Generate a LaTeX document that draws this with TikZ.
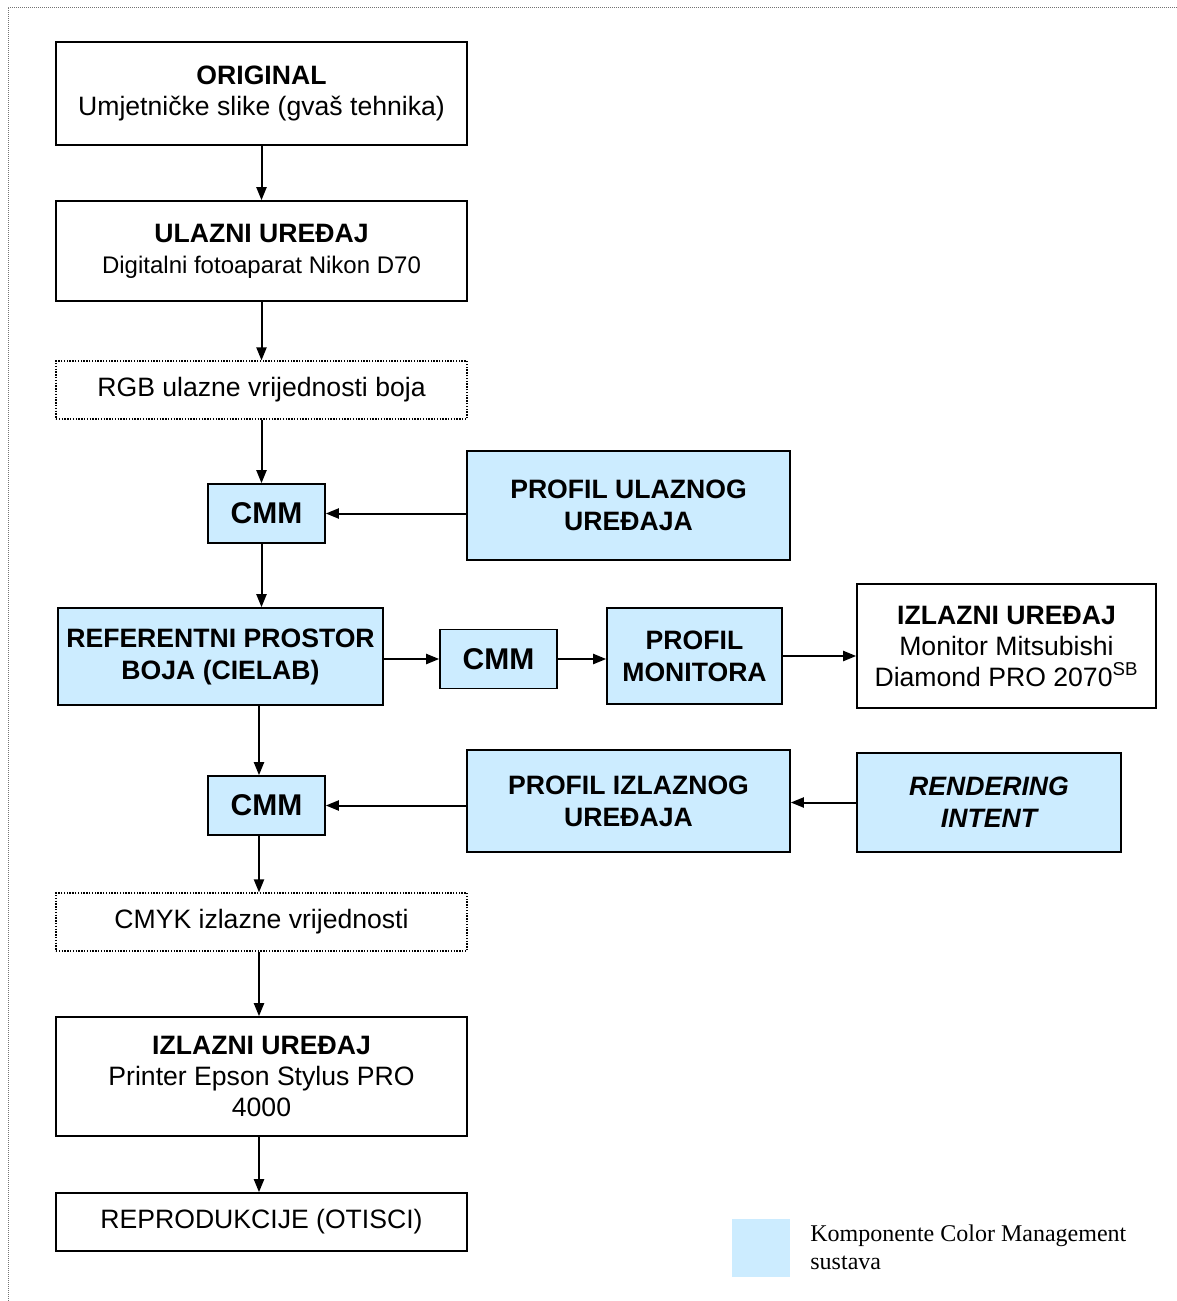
\documentclass[tikz,border=0pt]{standalone}
\usepackage{fontspec}
\setmainfont{Liberation Sans}
\newfontfamily\legendfont{Liberation Serif}
\usepackage{tikz}
\usetikzlibrary{arrows.meta,positioning,calc}
\usepackage{xcolor}
\definecolor{cmsblue}{RGB}{204,236,255}

\begin{document}
\begin{tikzpicture}[
    x=0.5pt,
    y=-0.5pt,
    font=\fontsize{13.3}{15.5}\selectfont,
    plainbox/.style={draw=black,line width=0.8pt,fill=white,align=center,inner sep=0pt},
    valuebox/.style={draw=black,line width=0.6pt,dash pattern=on 0.7pt off 0.7pt,align=center,inner sep=0pt},
    cmsbox/.style={draw=black,line width=0.8pt,fill=cmsblue,align=center,inner sep=0pt,font=\fontsize{13.3}{16}\selectfont\bfseries},
    cmmbox/.style={cmsbox,minimum width=58.5pt,minimum height=29.5pt,font=\fontsize{15}{17}\selectfont\bfseries},
    wide/.style={minimum width=205.5pt},
    flow/.style={-{Triangle[length=6.5pt,width=5pt]},draw=black,line width=1pt},
    frameline/.style={draw=black!55,line width=0.5pt,dash pattern=on 0.5pt off 0.5pt}
  ]
    \useasboundingbox (0,0) rectangle (1177,1301);
    \draw[frameline] (1177,7) -- (8,7) -- (8,1301);

    % main column
    \node[plainbox,wide,minimum height=51.5pt] (original) at (261.5,93.5)
      {\textbf{ORIGINAL}\\Umjetničke slike (gvaš tehnika)};
    \node[plainbox,wide,minimum height=50pt] (inputdevice) at (261.5,251)
      {\textbf{ULAZNI UREĐAJ}\\{\fontsize{12}{15}\selectfont Digitalni fotoaparat Nikon D70}};
    \node[valuebox,wide,minimum height=29pt] (rgbvalues) at (261.5,390)
      {RGB ulazne vrijednosti boja};
    \node[cmmbox] (cmmin) at (266.5,513.5) {CMM};
    \node[cmsbox,minimum width=161.5pt,minimum height=54.5pt] (inprofile) at (628.5,505.5)
      {PROFIL ULAZNOG\\UREĐAJA};
    \node[cmsbox,minimum width=162.5pt,minimum height=48.5pt] (refspace) at (220.5,656.5)
      {REFERENTNI PROSTOR\\BOJA (CIELAB)};
    \node[cmmbox] (cmmmon) at (498.5,659) {CMM};
    \node[cmsbox,minimum width=87.5pt,minimum height=48pt] (monprofile) at (694.5,656)
      {PROFIL\\MONITORA};
    \node[plainbox,minimum width=149.5pt,minimum height=62pt] (monitor) at (1006.5,646)
      {\textbf{IZLAZNI UREĐAJ}\\Monitor Mitsubishi\\Diamond PRO 2070\textsuperscript{SB}};
    \node[cmmbox] (cmmout) at (266.5,805.5) {CMM};
    \node[cmsbox,minimum width=161.5pt,minimum height=51pt] (outprofile) at (628.5,801)
      {PROFIL IZLAZNOG\\UREĐAJA};
    \node[cmsbox,minimum width=132pt,minimum height=49.5pt,font=\fontsize{13.3}{16}\selectfont\bfseries\itshape] (intent) at (989,802.5)
      {RENDERING\\INTENT};
    \node[valuebox,wide,minimum height=29pt] (cmykvalues) at (261.5,922)
      {CMYK izlazne vrijednosti};
    \node[plainbox,wide,minimum height=59.5pt] (printer) at (261.5,1076.5)
      {\textbf{IZLAZNI UREĐAJ}\\Printer Epson Stylus PRO\\4000};
    \node[plainbox,wide,minimum height=29pt] (prints) at (261.5,1222)
      {REPRODUKCIJE (OTISCI)};

    % legend
    \node[fill=cmsblue,minimum size=29pt,inner sep=0pt] (legendbox) at (761,1248) {};
    \node[anchor=west,align=left,inner sep=0pt,font=\legendfont\fontsize{12}{14}\selectfont] (legendtext) at (810,1247)
      {Komponente Color Management\\sustava};

    % connectors
    \coordinate (downline) at (259,0);
    \draw[flow] (original) -- (inputdevice);
    \draw[flow] (inputdevice) -- (rgbvalues);
    \draw[flow] (rgbvalues.south) -- (rgbvalues.south |- cmmin.north);
    \draw[flow] (rgbvalues.south |- cmmin.south) -- (rgbvalues.south |- refspace.north);
    \draw[flow] (inprofile.west |- cmmin) -- (cmmin.east);
    \draw[flow] (refspace.east |- cmmmon) -- (cmmmon.west);
    \draw[flow] (cmmmon.east) -- (cmmmon.east -| monprofile.west);
    \draw[flow] (monprofile.east) -- (monprofile.east -| monitor.west);
    \draw[flow] (refspace.south -| downline) -- (cmmout.north -| downline);
    \draw[flow] (outprofile.west |- cmmout) -- (cmmout.east);
    \draw[flow] (intent.west) -- (intent.west -| outprofile.east);
    \draw[flow] (cmmout.south -| downline) -- (cmykvalues.north -| downline);
    \draw[flow] (cmykvalues.south -| downline) -- (printer.north -| downline);
    \draw[flow] (printer.south -| downline) -- (prints.north -| downline);
\end{tikzpicture}
\end{document}
